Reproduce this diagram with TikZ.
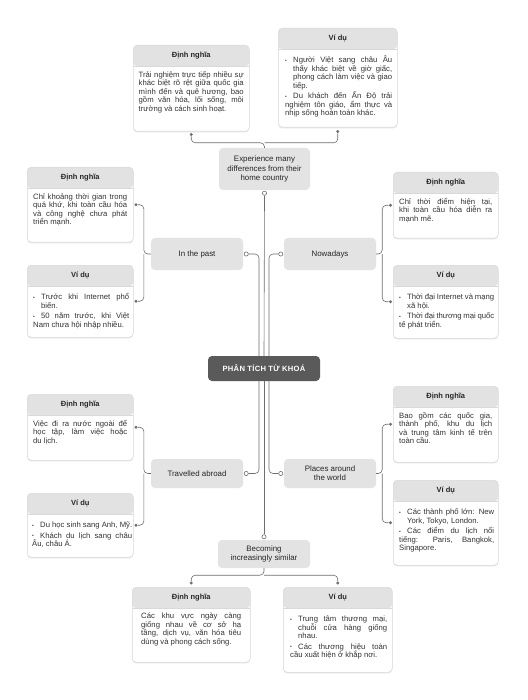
\documentclass[tikz,border=0pt]{standalone}
\usepackage{fontspec}
\setmainfont{Liberation Sans}
\usetikzlibrary{shadows,calc}
\definecolor{linegray}{HTML}{6E6E6E}
\definecolor{nodegray}{HTML}{E3E3E3}
\definecolor{headgray}{HTML}{E2E2E2}
\definecolor{bordergray}{HTML}{D9D9D9}
\definecolor{rootgray}{HTML}{5A5A5A}
\definecolor{txt}{HTML}{262626}
\definecolor{bodytxt}{HTML}{333333}
\newcommand{\bodyfont}{\fontsize{7.7}{8.5}\selectfont}
\newcommand{\itm}{\par\noindent\hangindent=8pt\hangafter=1\hbox to 8pt{\fontsize{5}{5}\selectfont\raisebox{0.6pt}{•}\hss}}
\newcommand{\itmgap}{\par\vskip2pt}
\tikzset{
  conn/.style={draw=linegray, line width=0.6pt, rounded corners=4pt},
  topic/.style={fill=nodegray, rounded corners=4pt, minimum width=92pt, text=txt, align=center, font=\fontsize{7.9}{9.3}\selectfont, inner sep=1pt},
  ibox/.style={draw=bordergray, line width=0.5pt, fill=white, rounded corners=4pt, inner sep=0pt,
     drop shadow={shadow xshift=0pt, shadow yshift=-1.2pt, opacity=0.10, fill=black}},
  ihead/.style={font=\bfseries\fontsize{7.5}{8}\selectfont, text=txt, inner sep=0pt},
  ibody/.style={font=\bodyfont, text=bodytxt, align=justify, inner sep=0pt},
  port/.style={circle, draw=linegray, fill=white, line width=0.6pt, inner sep=0pt, minimum size=4.2pt},
  dot/.style={circle, fill=linegray, inner sep=0pt, minimum size=3.4pt},
}
% #1 name, #2 x, #3 ytop, #4 width, #5 height, #6 title, #7 left pad, #8 text width, #9 body
\newcommand{\infobox}[9]{%
  \node[ibox, minimum width=#4pt, minimum height=#5pt, anchor=north west,
    path picture={\fill[headgray] (path picture bounding box.north west) rectangle ([yshift=-21pt]path picture bounding box.north east);
    \draw[bordergray, line width=0.5pt] ([yshift=-21pt]path picture bounding box.north west) -- ([yshift=-21pt]path picture bounding box.north east);}] (#1) at (#2,-#3) {};
  \node[ihead] (#1h) at ([yshift=-10.5pt]#1.north) {#6};
  \node[ibody, text width=#8pt, anchor=north west] (#1b) at ([xshift=#7pt, yshift=-26pt]#1.north west) {#9};
}
\begin{document}
\begin{tikzpicture}[x=1pt,y=1pt]
\useasboundingbox[fill=white] (0,0) rectangle (527,-700);

% ---------- info boxes ----------
\infobox{a1}{133}{45}{116}{86}{Định nghĩa}{5.5}{105}{Trải nghiệm trực tiếp nhiều sự\linebreak khác biệt rõ rệt giữa quốc gia\linebreak mình đến và quê hương, bao\linebreak gồm văn hóa, lối sống, môi\linebreak trường và cách sinh hoạt.}
\infobox{a2}{278}{28}{119}{99}{Ví dụ}{7}{107}{\itm Người Việt sang châu Âu\linebreak thấy khác biệt về giờ giấc,\linebreak phong cách làm việc và giao\linebreak tiếp.\itmgap\itm Du khách đến Ấn Độ trải\linebreak nghiệm tôn giáo, ẩm thực và\linebreak nhịp sống hoàn toàn khác.}

\infobox{b1}{27}{167}{106}{75}{Định nghĩa}{6}{94}{Chỉ khoảng thời gian trong\linebreak quá khứ, khi toàn cầu hóa\linebreak và công nghệ chưa phát\linebreak triển mạnh.}
\infobox{b2}{27}{265}{106}{72}{Ví dụ}{6}{96}{\itm Trước khi Internet phổ\linebreak biến.\itmgap\itm 50 năm trước, khi Việt\linebreak Nam chưa hội nhập nhiều.}

\infobox{c1}{393}{172}{105}{66}{Định nghĩa}{6}{93}{Chỉ thời điểm hiện tại,\linebreak khi toàn cầu hóa diễn ra\linebreak mạnh mẽ.}
\infobox{c2}{393}{265}{105}{73}{Ví dụ}{6}{95}{\itm Thời đại Internet và mạng\linebreak xã hội.\itmgap\itm Thời đại thương mại quốc\linebreak tế phát triển.}

\infobox{d1}{27}{394}{106}{66}{Định nghĩa}{6}{94}{Việc đi ra nước ngoài để\linebreak học tập, làm việc hoặc\linebreak du lịch.}
\infobox{d2}{27}{493}{106}{64}{Ví dụ}{5}{100}{\itm Du học sinh sang Anh, Mỹ.\itmgap\itm Khách du lịch sang châu\linebreak Âu, châu Á.}

\infobox{e1}{393}{386}{105}{76}{Định nghĩa}{6}{93}{Bao gồm các quốc gia,\linebreak thành phố, khu du lịch\linebreak và trung tâm kinh tế trên\linebreak toàn cầu.}
\infobox{e2}{393}{480}{105}{85}{Ví dụ}{6}{95}{\itm Các thành phố lớn: New\linebreak York, Tokyo, London.\itmgap\itm Các điểm du lịch nổi\linebreak tiếng: Paris, Bangkok,\linebreak Singapore.}

\infobox{f1}{132}{587}{118}{75}{Định nghĩa}{9}{100}{Các khu vực ngày càng\linebreak giống nhau về cơ sở hạ\linebreak tầng, dịch vụ, văn hóa tiêu\linebreak dùng và phong cách sống.}
\infobox{f2}{283}{587}{109}{85}{Ví dụ}{7}{97}{\itm Trung tâm thương mại,\linebreak chuỗi cửa hàng giống\linebreak nhau.\itmgap\itm Các thương hiệu toàn\linebreak cầu xuất hiện ở khắp nơi.}

% ---------- topic nodes ----------
\node[fill=rootgray, rounded corners=4pt, minimum width=112pt, minimum height=25pt, text=white, font=\bfseries\fontsize{7.6}{9}\selectfont] (root) at (264,-368.5) {\addfontfeatures{LetterSpace=4}PHÂN TÍCH TỪ KHOÁ};
\node[topic, minimum width=91pt, minimum height=42pt] (exp) at (264.5,-169) {Experience many\\differences from their\\home country};
\node[topic, minimum height=32pt] (past) at (197,-254) {In the past};
\node[topic, minimum height=32pt] (now) at (330,-254) {Nowadays};
\node[topic, minimum height=29pt] (trav) at (197,-473.5) {Travelled abroad};
\node[topic, minimum height=29pt] (plac) at (330,-473.5) {Places around\\the world};
\node[topic, minimum height=28pt] (bec) at (264,-554) {Becoming\\increasingly similar};

% ---------- ports ----------
\node[port] (pexp) at ([yshift=-3pt]exp.south) {};
\node[port] (ppast) at ([xshift=3pt]past.east) {};
\node[port] (pnow) at ([xshift=-3pt]now.west) {};
\node[port] (ptrav) at ([xshift=3pt]trav.east) {};
\node[port] (pplac) at ([xshift=-3pt]plac.west) {};
\node[port] (pbec) at ([yshift=3pt]bec.north) {};

% ---------- dots ----------
\node[dot] (da1) at ([yshift=-3pt]a1.south) {};
\node[dot] (da2) at ([yshift=-4pt]a2.south) {};
\node[dot] (db1) at ([xshift=2.5pt]b1.east) {};
\node[dot] (db2) at ([xshift=2.5pt]b2.east) {};
\node[dot] (dc1) at ([xshift=-2.5pt]c1.west) {};
\node[dot] (dc2) at ([xshift=-2.5pt]c2.west) {};
\node[dot] (dd1) at ([xshift=2.5pt]d1.east) {};
\node[dot] (dd2) at ([xshift=2.5pt]d2.east) {};
\node[dot] (de1) at ([xshift=-2.5pt]e1.west) {};
\node[dot] (de2) at ([xshift=-2.5pt]e2.west) {};
\node[dot] (df1) at ([yshift=4pt]f1.north) {};
\node[dot] (df2) at ([yshift=4pt]f2.north) {};

% ---------- root connectors ----------
\draw[conn] ([xshift=-5pt]root.north) |- (ppast);
\draw[conn] ([xshift=5pt]root.north) |- (pnow);
\draw[conn] (root.north) -- (pexp);
\draw[conn] ([xshift=-5pt]root.south) |- (ptrav);
\draw[conn] ([xshift=5pt]root.south) |- (pplac);
\draw[conn] (root.south) -- (pbec);

% ---------- child connectors ----------
\coordinate (ex) at ([yshift=5pt]exp.north);
\draw[conn] (exp.north) -- (ex) -| (da1);
\draw[conn] (ex) -| (da2);

\coordinate (pa) at ([xshift=-7pt]past.west);
\draw[conn] (past.west) -- (pa) |- (db1);
\draw[conn] (pa) |- (db2);

\coordinate (no) at ([xshift=6pt]now.east);
\draw[conn] (now.east) -- (no) |- (dc1);
\draw[conn] (no) |- (dc2);

\coordinate (tr) at ([xshift=-7pt]trav.west);
\draw[conn] (trav.west) -- (tr) |- (dd1);
\draw[conn] (tr) |- (dd2);

\coordinate (pl) at ([xshift=6pt]plac.east);
\draw[conn] (plac.east) -- (pl) |- (de1);
\draw[conn] (pl) |- (de2);

\coordinate (be) at ([yshift=-7pt]bec.south);
\draw[conn] (bec.south) -- (be) -| (df1);
\draw[conn] (be) -| (df2);
\end{tikzpicture}
\end{document}
